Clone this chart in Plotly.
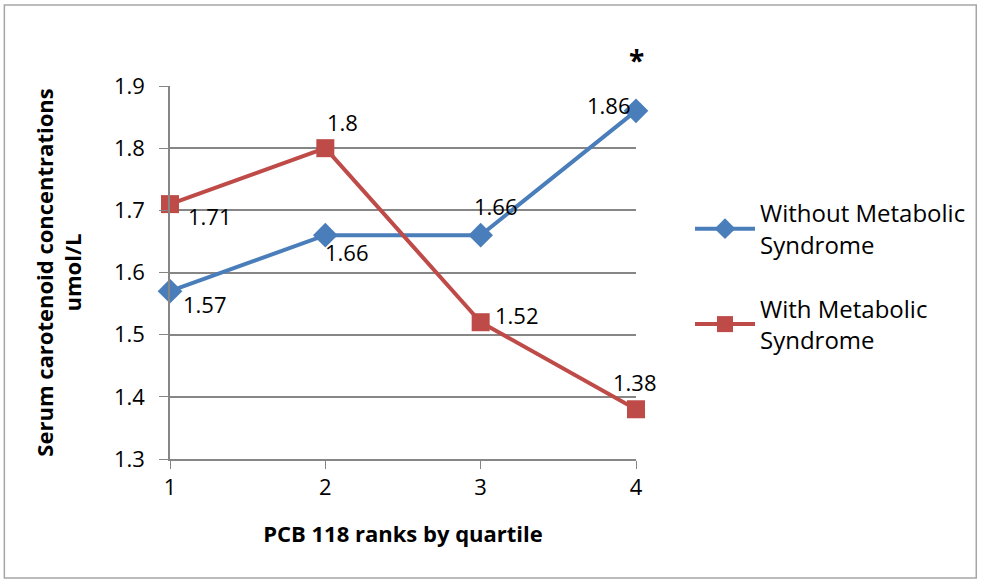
import plotly.graph_objects as go

# Quartile ranks of PCB 118 and mean serum carotenoid concentrations (umol/L)
quartiles = [1, 2, 3, 4]
without_ms = [1.57, 1.66, 1.66, 1.86]
with_ms = [1.71, 1.80, 1.52, 1.38]
series_names = ["Without Metabolic<br>Syndrome", "With Metabolic<br>Syndrome"]
y_ticks = [1.3, 1.4, 1.5, 1.6, 1.7, 1.8, 1.9]

BLUE = "#4A7EBB"
RED = "#BE4B48"
FONT = "Open Sans, sans-serif"
W, H = 982, 582
L, R, T, B = 170, 345, 86, 123

fig = go.Figure()
fig.add_trace(go.Scatter(
    x=quartiles, y=without_ms, mode="lines+markers", name=series_names[0],
    legendgroup="without",
    line=dict(color=BLUE, width=4),
    marker=dict(symbol="diamond", size=19, color=BLUE),
    cliponaxis=False,
))
fig.add_trace(go.Scatter(
    x=quartiles, y=with_ms, mode="lines+markers", name=series_names[1],
    legendgroup="with",
    line=dict(color=RED, width=4),
    marker=dict(symbol="square", size=18, color=RED),
    cliponaxis=False,
))

# data labels: (series values, index, x shift, y shift)
label_offsets = [
    (without_ms, 0, 35, -13), (without_ms, 1, 22, -17), (without_ms, 2, 15, 29), (without_ms, 3, -27, 6),
    (with_ms, 0, 40, -12), (with_ms, 1, 17, 26), (with_ms, 2, 36, 7), (with_ms, 3, -1, 27),
]
annotations = []
for vals, i, dx, dy in label_offsets:
    annotations.append(dict(
        x=quartiles[i], y=vals[i], xref="x", yref="y", text=f"{vals[i]:g}",
        showarrow=False, xshift=dx, yshift=dy,
        font=dict(family=FONT, size=22, color="#000000"),
    ))
# significance marker above the last quartile
annotations.append(dict(
    x=quartiles[3], y=1.9, xref="x", yref="y", text="<b>*</b>", showarrow=False,
    yshift=26, font=dict(family=FONT, size=28, color="#000000"),
))

pw, ph = W - L - R, H - T - B
fig.update_layout(
    width=W, height=H,
    margin=dict(l=L, r=R, t=T, b=B),
    paper_bgcolor="white", plot_bgcolor="white",
    font=dict(family=FONT, size=20, color="#000000"),
    showlegend=True,
    legend=dict(
        x=(690 - L) / pw, y=(H - B - 191) / ph, xanchor="left", yanchor="top",
        font=dict(family=FONT, size=24, color="#000000"),
        tracegroupgap=30, itemwidth=60,
        bgcolor="rgba(0,0,0,0)",
    ),
    annotations=annotations,
    shapes=[dict(
        type="rect", xref="paper", yref="paper",
        x0=(4 - L) / pw, x1=(978 - L) / pw,
        y0=(H - B - 578) / ph, y1=(H - B - 5) / ph,
        line=dict(color="#A6A6A6", width=1.5), fillcolor="rgba(0,0,0,0)", layer="below",
    )],
)
fig.update_xaxes(
    range=[1, 4], tickvals=quartiles, ticks="outside", ticklen=8, tickcolor="#868686",
    showline=True, linecolor="#868686", linewidth=1.5, showgrid=False, zeroline=False,
    tickfont=dict(family=FONT, size=22),
    title=dict(text="<b>PCB 118 ranks by quartile</b>", standoff=26,
               font=dict(family=FONT, size=22)),
)
fig.update_yaxes(
    range=[1.3, 1.9], tickvals=y_ticks, tickformat=".1f", ticks="outside", ticklen=9,
    tickcolor="#868686", showline=True, linecolor="#868686", linewidth=1.5,
    showgrid=True, gridcolor="#868686", gridwidth=1.5, zeroline=False,
    tickfont=dict(family=FONT, size=22), ticklabelstandoff=10,
    title=dict(text="<b>Serum carotenoid concentrations<br>umol/L</b>", standoff=26,
               font=dict(family=FONT, size=22)),
)

fig.write_html("out.html")
